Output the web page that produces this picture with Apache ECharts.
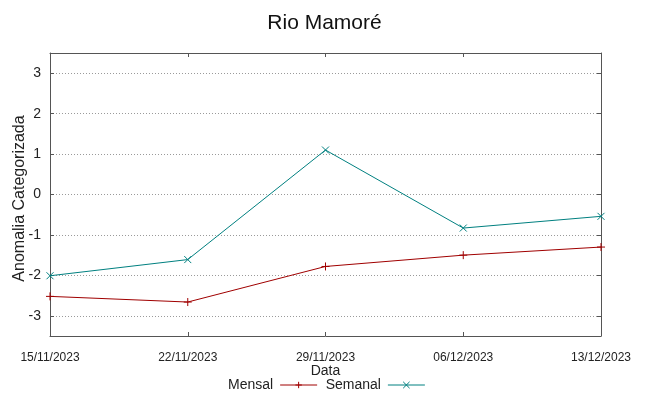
<!DOCTYPE html>
<html><head><meta charset="utf-8">
<script src="https://cdn.jsdelivr.net/npm/echarts@6/dist/echarts.min.js"></script>
<style>html,body{margin:0;padding:0;background:#fff}#c{width:649px;height:396px}</style>
</head><body><div id="c"></div>
<script>
const categories = ['15/11/2023','22/11/2023','29/11/2023','06/12/2023','13/12/2023'];
const mensal = [-2.52, -2.66, -1.78, -1.50, -1.30];
const semanal = [-2.01, -1.61, 1.10, -0.83, -0.54];
const yTicks = [-3, -2, -1, 0, 1, 2, 3];

const FONT = '"Liberation Sans", Arial, sans-serif';
const AX = '#555555';
const plusPath = 'path://M0,5 L10,5 M5,0 L5,10';
const crossPath = 'path://M0,0 L10,10 M10,0 L0,10';

const chart = echarts.init(document.getElementById('c'), null, {renderer:'canvas'});
chart.setOption({
  animation: false,
  backgroundColor: '#fff',
  title: {
    text: 'Rio Mamoré', left: 'center', top: 8,
    textStyle: {fontFamily: FONT, fontSize: 21, fontWeight: 'normal', color: '#111'}
  },
  legend: {
    left: 223, top: 373, align: 'right', itemGap: 8, itemWidth: 37, itemHeight: 8,
    textStyle: {fontFamily: FONT, fontSize: 14, color: '#222', padding: [0, 2, 0, 0]},
    lineStyle: {width: 1},
    itemStyle: {borderWidth: 1},
    data: ['Mensal', 'Semanal']
  },
  grid: {left: 50, right: 48, top: 53, bottom: 60, containLabel: false, outerBoundsMode: 'none'},
  xAxis: [{
    type: 'category', data: categories, boundaryGap: false,
    name: 'Data', nameLocation: 'middle', nameGap: 28, nameMoveOverlap: false,
    nameTextStyle: {fontFamily: FONT, fontSize: 14, color: '#222'},
    axisLine: {onZero: false, lineStyle: {color: AX, width: 1}},
    axisTick: {inside: true, length: 4, lineStyle: {color: AX}},
    axisLabel: {fontFamily: FONT, fontSize: 12, color: '#222', margin: 16, interval: 0},
    splitLine: {show: false}
  }, {
    type: 'category', data: categories, boundaryGap: false, position: 'top',
    axisLine: {onZero: false, lineStyle: {color: AX, width: 1}},
    axisTick: {inside: true, length: 4, lineStyle: {color: AX}},
    axisLabel: {show: false}, splitLine: {show: false}
  }],
  yAxis: [{
    type: 'value', min: -3.5, max: 3.5,
    name: 'Anomalia Categorizada', nameLocation: 'middle', nameGap: 22, nameMoveOverlap: false,
    nameTextStyle: {fontFamily: FONT, fontSize: 16, color: '#222', padding: [0, 8, 0, 0]},
    axisLine: {show: true, onZero: false, lineStyle: {color: AX, width: 1}},
    axisTick: {show: true, inside: true, length: 4, lineStyle: {color: AX}, customValues: yTicks},
    axisLabel: {fontFamily: FONT, fontSize: 14, color: '#222', margin: 9, customValues: yTicks},
    splitLine: {show: true, lineStyle: {color: '#9a9a9a', type: [1, 2], width: 1}}
  }, {
    type: 'value', min: -3.5, max: 3.5, position: 'right',
    axisLine: {show: true, onZero: false, lineStyle: {color: AX, width: 1}},
    axisTick: {show: true, inside: true, length: 4, lineStyle: {color: AX}, customValues: yTicks},
    axisLabel: {show: false, customValues: yTicks},
    splitLine: {show: false}
  }],
  series: [{
    name: 'Mensal', type: 'line', data: mensal, xAxisIndex: 0, yAxisIndex: 0,
    symbol: plusPath, symbolSize: 8, showSymbol: true,
    lineStyle: {color: '#a00000', width: 1},
    itemStyle: {color: 'rgba(0,0,0,0)', borderColor: '#a00000', borderWidth: 1},
    emphasis: {disabled: true}
  }, {
    name: 'Semanal', type: 'line', data: semanal, xAxisIndex: 0, yAxisIndex: 0,
    symbol: crossPath, symbolSize: 7, showSymbol: true,
    lineStyle: {color: '#008080', width: 1},
    itemStyle: {color: 'rgba(0,0,0,0)', borderColor: '#008080', borderWidth: 1},
    emphasis: {disabled: true}
  }]
});
</script></body></html>
